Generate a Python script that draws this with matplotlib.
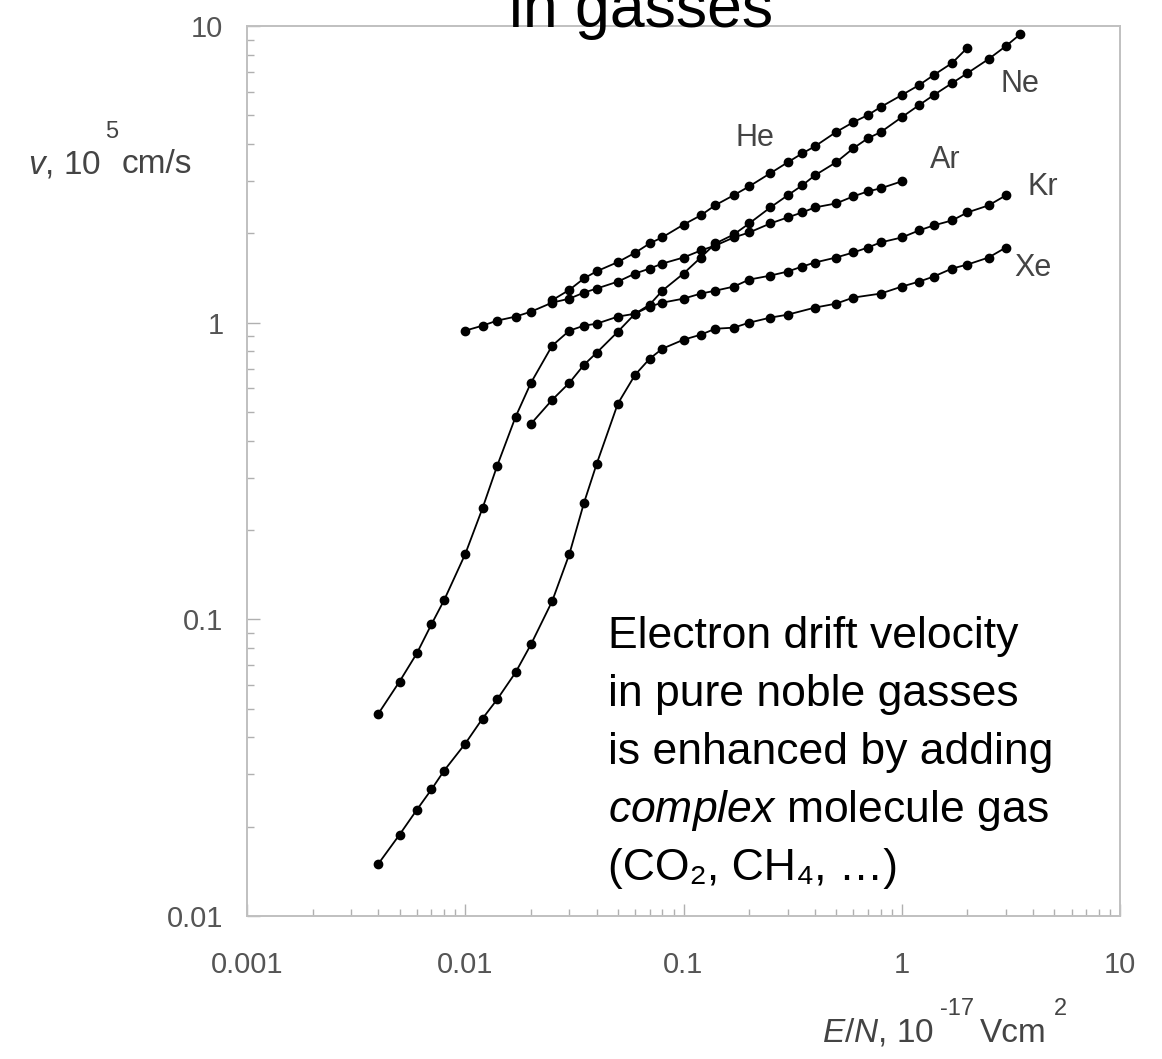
import matplotlib
matplotlib.use("Agg")
import matplotlib.pyplot as plt
from matplotlib.ticker import LogLocator, NullFormatter

plt.rcParams["font.family"] = ["Liberation Sans", "DejaVu Sans"]
plt.rcParams["mathtext.fontset"] = "custom"
plt.rcParams["mathtext.rm"] = "Liberation Sans"
plt.rcParams["mathtext.it"] = "Liberation Sans:italic"

W, H = 1162, 1059

# drift velocity v (10^5 cm/s) vs E/N (10^-17 V cm^2)
he_x = [0.025, 0.03, 0.035, 0.04, 0.05, 0.06, 0.07, 0.08, 0.1, 0.12, 0.14, 0.17, 0.2,
        0.25, 0.3, 0.35, 0.4, 0.5, 0.6, 0.7, 0.8, 1.0, 1.2, 1.4, 1.7, 2.0]
he_v = [1.19, 1.29, 1.41, 1.49, 1.60, 1.72, 1.85, 1.94, 2.14, 2.30, 2.49, 2.69, 2.88,
        3.19, 3.47, 3.72, 3.93, 4.39, 4.74, 5.01, 5.33, 5.85, 6.32, 6.83, 7.50, 8.45]

ne_x = [0.02, 0.025, 0.03, 0.035, 0.04, 0.05, 0.06, 0.07, 0.08, 0.1, 0.12, 0.14, 0.17,
        0.2, 0.25, 0.3, 0.35, 0.4, 0.5, 0.6, 0.7, 0.8, 1.0, 1.2, 1.4, 1.7, 2.0, 2.5,
        3.0, 3.5]
ne_v = [0.456, 0.549, 0.627, 0.721, 0.792, 0.932, 1.072, 1.150, 1.282, 1.464, 1.658,
        1.849, 1.983, 2.160, 2.446, 2.686, 2.903, 3.138, 3.471, 3.871, 4.184, 4.385,
        4.927, 5.410, 5.847, 6.418, 6.937, 7.737, 8.556, 9.397]

ar_x = [0.01, 0.012, 0.014, 0.017, 0.02, 0.025, 0.03, 0.035, 0.04, 0.05, 0.06, 0.07,
        0.08, 0.1, 0.12, 0.14, 0.17, 0.2, 0.25, 0.3, 0.35, 0.4, 0.5, 0.6, 0.7, 0.8, 1.0]
ar_v = [0.940, 0.977, 1.016, 1.048, 1.089, 1.168, 1.205, 1.263, 1.303, 1.375, 1.464,
        1.522, 1.582, 1.658, 1.751, 1.820, 1.937, 2.014, 2.160, 2.263, 2.353, 2.446,
        2.523, 2.665, 2.771, 2.836, 2.995]

kr_x = [0.004, 0.005, 0.006, 0.007, 0.008, 0.01, 0.012, 0.014, 0.017, 0.02, 0.025,
        0.03, 0.035, 0.04, 0.05, 0.06, 0.07, 0.08, 0.1, 0.12, 0.14, 0.17, 0.2, 0.25,
        0.3, 0.35, 0.4, 0.5, 0.6, 0.7, 0.8, 1.0, 1.2, 1.4, 1.7, 2.0, 2.5, 3.0]
kr_v = [0.0481, 0.0617, 0.0768, 0.0962, 0.116, 0.166, 0.237, 0.329, 0.481, 0.627,
        0.836, 0.940, 0.977, 0.992, 1.048, 1.072, 1.133, 1.168, 1.205, 1.253, 1.282,
        1.323, 1.397, 1.441, 1.487, 1.546, 1.595, 1.658, 1.724, 1.792, 1.864, 1.937,
        2.046, 2.127, 2.211, 2.353, 2.485, 2.686]

xe_x = [0.004, 0.005, 0.006, 0.007, 0.008, 0.01, 0.012, 0.014, 0.017, 0.02, 0.025,
        0.03, 0.035, 0.04, 0.05, 0.06, 0.07, 0.08, 0.1, 0.12, 0.14, 0.17, 0.2, 0.25,
        0.3, 0.4, 0.5, 0.6, 0.8, 1.0, 1.2, 1.4, 1.7, 2.0, 2.5, 3.0]
xe_v = [0.0150, 0.0188, 0.0228, 0.0267, 0.0309, 0.0381, 0.0463, 0.0537, 0.0662,
        0.0823, 0.115, 0.166, 0.247, 0.334, 0.533, 0.667, 0.756, 0.817, 0.876, 0.911,
        0.954, 0.962, 1.0, 1.04, 1.064, 1.124, 1.159, 1.215, 1.253, 1.323, 1.375,
        1.430, 1.522, 1.570, 1.658, 1.792]

gases = ["He", "Ne", "Ar", "Kr", "Xe"]
series = [(he_x, he_v), (ne_x, ne_v), (ar_x, ar_v), (kr_x, kr_v), (xe_x, xe_v)]

x_ticks = [0.001, 0.01, 0.1, 1, 10]
x_ticklabels = ["0.001", "0.01", "0.1", "1", "10"]
y_ticks = [0.01, 0.1, 1, 10]
y_ticklabels = ["0.01", "0.1", "1", "10"]

note_lines = [
    "Electron drift velocity",
    "in pure noble gasses",
    "is enhanced by adding",
    r"$\mathit{complex}$ molecule gas",
    "(CO\u2082, CH\u2084, \u2026)",
]


def fx(px):
    return px / W


def fy(py):
    return 1 - py / H


fig = plt.figure(figsize=(W / 100, H / 100), dpi=100)
ax = fig.add_axes([fx(247), fy(916), fx(1120) - fx(247), fy(26) - fy(916)])

for x, v in series:
    ax.plot(x, v, color="black", lw=1.3, marker="o", ms=6, mec="black", mfc="black")

ax.set_xscale("log")
ax.set_yscale("log")
ax.set_xlim(0.001, 10)
ax.set_ylim(0.01, 10)

ax.set_xticks(x_ticks)
ax.set_xticklabels(x_ticklabels)
ax.set_yticks(y_ticks)
ax.set_yticklabels(y_ticklabels)
ax.xaxis.set_minor_locator(LogLocator(base=10, subs=range(2, 10)))
ax.yaxis.set_minor_locator(LogLocator(base=10, subs=range(2, 10)))
ax.xaxis.set_minor_formatter(NullFormatter())
ax.yaxis.set_minor_formatter(NullFormatter())

ax.tick_params(which="both", direction="in", color="#b0b0b0", width=1.0,
               top=False, right=False)
ax.tick_params(which="major", length=9, labelsize=21, labelcolor="#555555")
ax.tick_params(which="minor", length=5)
ax.tick_params(axis="x", which="major", pad=25)
ax.tick_params(axis="y", which="major", pad=17)

for s in ax.spines.values():
    s.set_color("#c0c0c0")
    s.set_linewidth(1.4)

# curve labels
label_pos = {"He": (755, 138), "Ne": (1020, 84), "Ar": (945, 160),
             "Kr": (1043, 187), "Xe": (1033, 268)}
for g in gases:
    px, py = label_pos[g]
    fig.text(fx(px), fy(py), g, ha="center", va="center", fontsize=22, color="#444444")

# axis labels with raised exponents
lab = dict(color="#444444")
fig.text(fx(28), fy(173), r"$\mathit{v}$, 10", fontsize=24, va="baseline", **lab)
fig.text(fx(105), fy(138), "5", fontsize=17, va="baseline", **lab)
fig.text(fx(122), fy(173), "cm/s", fontsize=24, va="baseline", **lab)

fig.text(fx(822), fy(1042), r"$\mathit{E/N}$, 10", fontsize=24, va="baseline", **lab)
fig.text(fx(940), fy(1015), "-17", fontsize=17, va="baseline", **lab)
fig.text(fx(980), fy(1042), "Vcm", fontsize=24, va="baseline", **lab)
fig.text(fx(1054), fy(1015), "2", fontsize=17, va="baseline", **lab)

# title, clipped at the top edge like the slide
fig.text(fx(641), fy(27), "in gasses", ha="center", va="baseline", fontsize=45,
         color="black")

# annotation
for i, line in enumerate(note_lines):
    fig.text(fx(608), fy(648 + 58 * i), line, ha="left", va="baseline",
             fontsize=32, color="black")

fig.savefig("out.png", dpi=100, facecolor="white")
